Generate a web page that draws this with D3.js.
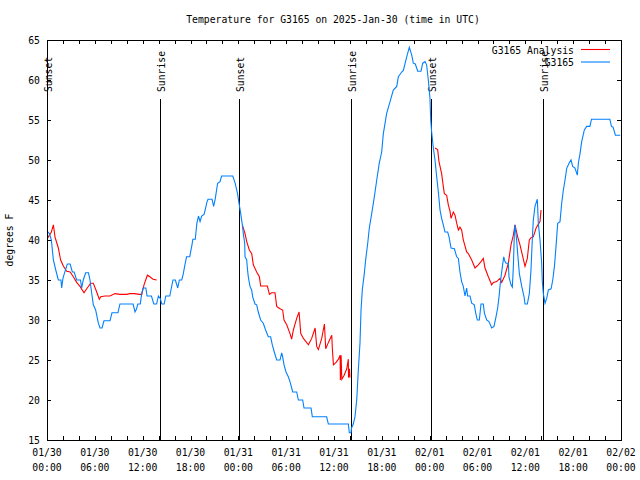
<!DOCTYPE html>
<html><head><meta charset="utf-8">
<script src="https://cdn.jsdelivr.net/npm/d3@7"></script>
<style>
body{margin:0;background:#fff}
text{font-family:"DejaVu Sans Mono",monospace;font-size:9.75px;fill:#000}
</style>
</head><body>
<svg id="c" width="640" height="480"></svg>
<script>
// ---- data (hours since 2025-01-30 00:00 UTC, degrees F) ----
const obsHours=[0.0,0.3,0.55,0.8,1.1,1.42,1.75,1.84,2.0,2.2,2.55,2.9,3.18,3.4,3.72,4.2,4.35,4.55,4.85,5.2,5.39,5.6,5.81,6.1,6.44,6.65,6.9,7.15,7.9,8.15,8.9,9.15,10.8,11.04,11.2,11.4,11.7,11.88,12.05,12.4,12.55,13.1,13.4,13.75,13.97,14.2,14.4,14.7,14.9,15.4,15.6,15.8,16.1,16.4,16.6,16.9,17.1,17.3,17.5,17.9,18.15,18.3,18.6,18.8,19.0,19.2,19.4,19.7,19.9,20.05,20.2,20.7,20.9,21.1,21.4,21.7,21.9,23.3,23.6,23.9,24.12,24.3,24.5,24.65,24.8,24.84,25.05,25.13,25.25,25.46,25.67,25.8,26.09,26.3,26.5,26.8,27.13,27.42,27.76,28.05,28.26,28.51,28.81,29.23,29.44,29.56,29.73,29.98,30.27,30.48,30.69,30.82,31.32,31.53,32.07,32.24,33.12,33.28,35.08,35.29,37.8,37.92,38.13,38.2,38.42,38.63,38.85,39.05,39.26,39.39,39.55,39.8,39.97,40.23,40.43,40.73,41.06,41.36,41.68,41.98,42.19,42.6,43.03,43.44,43.87,44.07,44.49,44.7,45.12,45.45,45.75,45.95,46.2,46.5,46.91,47.13,47.42,47.62,47.83,48.04,48.13,48.25,48.46,48.67,48.88,49.09,49.3,49.5,49.71,49.92,50.26,50.43,50.68,51.1,51.39,51.6,51.8,52.01,52.22,52.43,52.64,52.76,53.06,53.27,53.6,53.77,53.98,54.23,54.44,54.73,54.86,55.15,55.44,55.78,56.07,56.32,56.53,56.7,56.86,57.12,57.29,57.45,57.58,57.87,57.95,58.2,58.37,58.5,58.62,58.7,58.91,59.04,59.25,59.55,59.84,59.96,60.25,60.5,60.71,60.87,61.0,61.21,61.5,61.63,61.84,62.05,62.13,62.26,62.47,62.68,62.89,63.23,63.44,63.65,63.85,64.06,64.35,64.56,64.77,64.98,65.19,65.48,65.73,65.94,66.23,66.52,66.65,66.86,67.07,67.4,67.7,68.1,68.3,70.6,70.8,71.0,71.3,71.9];
const obsTemps=[41.1,40.8,40,37.5,36.25,35,35,34,35.2,35.9,37,37,36,36,35,35,34,35,35.9,35.9,35,33.4,31.9,31.25,29.6,29,29,29.9,29.9,30.9,30.9,32,32,31,31.3,32,32,33.3,34,34,33,33,32,32,33,32.7,32,32,33,33,34,35,35,34,35,35,35.8,36.9,37.9,37.9,39.2,40.1,40.1,42.1,43,42.3,43,43.2,44,44.7,45.1,45.1,44.2,45.1,47.1,47.3,48,48,47.1,45.8,44.4,43.3,41.9,40.6,39.6,37.9,37.5,36.5,35.4,34.2,33.75,32.9,32,31.9,31,30,29.6,28.75,27.9,27.9,26.9,26,25,25,25.9,25.4,24.4,23.5,22.9,22.3,21.5,21,21,20,20,19,19,17.9,17.9,17,17,15.9,15.9,16.5,17,17.9,20,23.75,27.1,31.25,33.75,35.8,37.5,39.6,41.5,43.3,45.4,47.5,49.6,51,53.3,55.8,57.3,58.75,59.2,60.4,61,61.2,62.9,64.1,63.1,62.1,62,61.1,61.1,62.1,62.3,61.9,60,57.7,55,53.5,51.5,50,47.9,46,43.75,42.7,41.9,41,41,40.4,39,38.9,37.9,37.7,36,34.8,34.2,33,34,33,33,32.1,31.9,30.9,30,30,32,32,30.9,30,29.8,29,29.2,30.4,31.5,32.9,34.6,36.7,37.9,37.3,37.1,37.1,35.4,34.4,34.1,36.7,40.8,41.9,40,38.3,35.8,34.2,32.9,32,32,33.3,36.25,40,42.5,44.2,45.1,42.1,40,37.1,34.8,33.3,32.1,32.7,33.75,33.9,35,36.7,39.2,42.1,42.3,44.6,46.25,47.5,48.96,49.6,50,49.2,49,48.1,49.6,50.8,52.3,53.75,54.2,54.2,55.1,55.1,54.2,54.1,53.1,53.1];

const anaHours1=[0.05,0.55,0.8,1.0,1.42,1.71,2.05,2.47,2.9,3.3,3.72,4.14,4.64,5.05,5.48,5.81,6.2,6.56,6.75,7.27,7.9,8.53,9.15,10.0,10.4,11.0,11.6,11.88,12.17,12.59,12.9,13.3,13.76];
const anaTemps1=[40.2,41,41.9,40.4,39,37.5,36.75,36.1,36,35.4,34.7,34.2,33.4,34,34.6,34.6,33.6,32.6,32.9,33,33,33.3,33.2,33.2,33.3,33.3,33.2,33.2,34.4,35.6,35.4,35.1,35];
const anaHours2=[24.5,24.84,25.05,25.38,25.68,25.88,26.3,26.64,26.8,27.64,27.9,28.18,28.6,28.81,29.23,29.56,29.73,30.07,30.48,30.69,30.9,31.32,31.62,31.83,32.16,32.79,33.2,33.63,33.83,34.04,34.46,34.8,34.96,35.3,35.72,35.8,35.93,36.26,36.56,36.77,36.8,36.89,36.98,37.27,37.6,37.8,37.82,37.94,38.0];
const anaTemps2=[41.9,40.8,39.8,38.75,38.3,36.9,36,35.4,34.25,34.25,33.2,33.4,33.4,31.7,31.4,31.25,30,29.4,28.3,27.6,28.75,30.2,31,28.3,27.7,26.9,27.7,29,26.7,26.3,27.7,29.5,26.4,27.2,28.1,26.3,24.4,24.7,25.1,25.6,22.5,25.6,22.6,23.1,23.9,25.1,22.8,23.9,22.8];
const anaHours3=[48.67,49.0,49.17,49.5,49.71,49.84,50.13,50.34,50.55,50.68,50.97,51.18,51.39,51.6,51.8,52.01,52.22,52.64,52.85,53.27,53.69,54.1,54.44,54.73,54.94,55.36,55.78,55.99,56.4,56.82,57.03,57.45,57.87,58.2,58.5,58.7,59.04,59.33,59.63,59.96,60.25,60.5,60.71,61.0,61.35,61.84,61.97];
const anaTemps3=[51.5,51.3,49.8,48.3,46.7,45.8,45.6,44.4,43.6,42.7,43.5,43.1,42.1,41.25,41.6,41.25,40,38.5,38.3,37.5,36.5,36.9,37.3,37.7,36.5,35.4,34.4,34.7,34.8,35.2,34.7,35.6,37.1,39.4,40.6,41.9,40.4,39.4,38.1,36.7,37.7,40,40.3,40.4,41.5,42.3,43.75];

const sunsetHours=[0.05,24.08,48.12];
const sunriseHours=[14.2,38.13,62.25];
const yTickValues=[15,20,25,30,35,40,45,50,55,60,65];
const seriesNames=["G3165 Analysis","G3165"];
const seriesColors=["#ff0000","#0080ff"];
const titleText="Temperature for G3165 on 2025-Jan-30 (time in UTC)";
const yLabelText="degrees F";

// ---- layout ----
const L=47,R=621,T=40,B=440;
const t0=Date.UTC(2025,0,30);
const toDate=h=>new Date(t0+h*3600e3);
const svg=d3.select("#c");
const x=d3.scaleUtc().domain([toDate(0),toDate(72)]).range([L,R]);
const y=d3.scaleLinear().domain([15,65]).range([B,T]);

// ticks
const minor=d3.utcHour.every(2).range(toDate(0),toDate(72.01));
const gB=svg.append("g").attr("transform",`translate(0,${B})`)
  .call(d3.axisBottom(x).tickValues(minor).tickSize(-4).tickFormat(""));
const gT=svg.append("g").attr("transform",`translate(0,${T})`)
  .call(d3.axisTop(x).tickValues(minor).tickSize(-4).tickFormat(""));
const gL=svg.append("g").attr("transform",`translate(${L},0)`)
  .call(d3.axisLeft(y).tickValues(yTickValues).tickSize(-4).tickPadding(7));
const gR=svg.append("g").attr("transform",`translate(${R},0)`)
  .call(d3.axisRight(y).tickValues(yTickValues).tickSize(-4).tickFormat(""));
[gB,gT,gL,gR].forEach(g=>{g.select(".domain").remove();g.selectAll("line").attr("stroke","#000").attr("shape-rendering","crispEdges");
  g.attr("font-family",null).attr("font-size",null);g.selectAll("text").attr("fill","#000");});

// x labels (every 6h)
const major=d3.utcHour.every(6).range(toDate(0),toDate(72.01));
const fD=d3.utcFormat("%m/%d"), fT=d3.utcFormat("%H:%M");
const xl=svg.append("g").selectAll("text").data(major).join("text")
  .attr("text-anchor","middle");
xl.append("tspan").attr("x",d=>x(d)).attr("y",455.5).text(d=>fD(d));
xl.append("tspan").attr("x",d=>x(d)).attr("y",470.5).text(d=>fT(d));

// sunrise/sunset lines
const events=sunsetHours.map(h=>({h,label:"Sunset"})).concat(sunriseHours.map(h=>({h,label:"Sunrise"})));
const ev=svg.append("g");
ev.selectAll("line").data(events).join("line")
  .attr("x1",d=>Math.round(x(toDate(d.h)))+0.5).attr("x2",d=>Math.round(x(toDate(d.h)))+0.5)
  .attr("y1",99).attr("y2",B).attr("stroke","#000").attr("stroke-width",1);
ev.selectAll("text").data(events).join("text")
  .attr("transform",d=>`translate(${x(toDate(d.h))+5},92) rotate(-90)`)
  .attr("text-anchor","start").text(d=>d.label);

// series
const line=d3.line().x(d=>x(toDate(d[0]))).y(d=>y(d[1]));
const plot=svg.append("g");
[[anaHours1,anaTemps1],[anaHours2,anaTemps2],[anaHours3,anaTemps3]].forEach(([hs,ts])=>{
  plot.append("path").datum(hs.map((h,i)=>[h,ts[i]])).attr("d",line)
    .attr("fill","none").attr("stroke",seriesColors[0]).attr("stroke-width",1.1);
});
plot.append("path").datum(obsHours.map((h,i)=>[h,obsTemps[i]])).attr("d",line)
  .attr("fill","none").attr("stroke",seriesColors[1]).attr("stroke-width",1.1);

// border
svg.append("rect").attr("x",L+0.5).attr("y",T+0.5).attr("width",R-L).attr("height",B-T)
  .attr("fill","none").attr("stroke","#000").attr("shape-rendering","crispEdges");

// title & y label
svg.append("text").attr("x",333).attr("y",23).attr("text-anchor","middle").text(titleText);
svg.append("text").attr("transform","translate(13,240) rotate(-90)").attr("text-anchor","middle").text(yLabelText);

// legend
const lg=svg.append("g");
seriesNames.forEach((n,i)=>{
  const yy=i===0?49.5:62;
  lg.append("text").attr("x",574).attr("y",yy+4.3).attr("text-anchor","end").text(n);
  lg.append("line").attr("x1",581).attr("x2",610).attr("y1",yy).attr("y2",yy)
    .attr("stroke",seriesColors[i]).attr("stroke-width",1.1);
});
</script>
</body></html>
